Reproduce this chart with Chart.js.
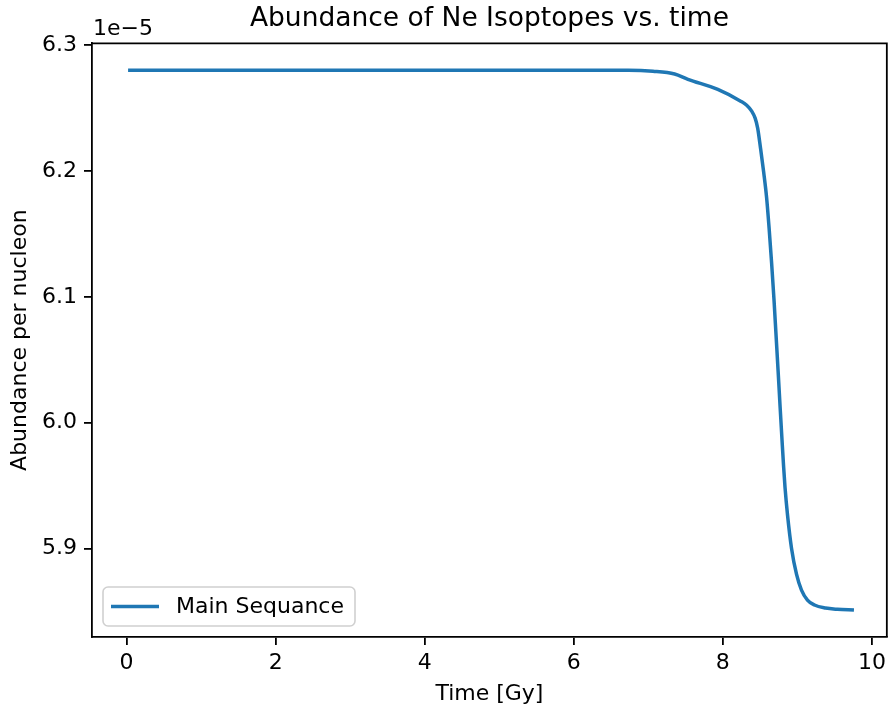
<!DOCTYPE html>
<html>
<head>
<meta charset="utf-8">
<script src="https://cdn.jsdelivr.net/npm/chart.js@4.4.1/dist/chart.umd.min.js"></script>
<style>
html,body{margin:0;padding:0;background:#fff;}
#wrap{width:891px;height:709px;}
</style>
</head>
<body>
<div id="wrap"><canvas id="c" width="891" height="709"></canvas></div>
<script>
// Time in Gy
const timeGy = [0.02, 1.0, 2.0, 3.0, 4.0, 5.0, 6.0, 6.73, 7.063, 7.353, 7.531, 7.932, 8.239, 8.320, 8.387, 8.433, 8.467, 8.507, 8.547, 8.587, 8.620, 8.654, 8.687, 8.714, 8.741, 8.767, 8.794, 8.814, 8.834, 8.868, 8.921, 8.988, 9.055, 9.135, 9.229, 9.376, 9.536, 9.759];
// Abundance per nucleon, in units of 1e-5
const abundance = [6.2802, 6.2802, 6.2802, 6.2802, 6.2802, 6.2802, 6.2802, 6.2802, 6.2794, 6.2772, 6.2730, 6.2649, 6.2556, 6.2524, 6.2477, 6.2421, 6.2342, 6.2175, 6.1995, 6.1790, 6.1550, 6.1270, 6.0970, 6.0692, 6.0415, 6.0137, 5.9860, 5.9661, 5.9487, 5.9265, 5.9003, 5.8797, 5.8670, 5.8591, 5.8551, 5.8527, 5.8517, 5.8511];
const seriesLabel = 'Main Sequance';
const xTicks = [0, 2, 4, 6, 8, 10];
const yTicks = [5.9, 6.0, 6.1, 6.2, 6.3];
const offsetText = '1e\u22125';
const chartTitle = 'Abundance of Ne Isoptopes vs. time';
const xTitle = 'Time [Gy]';
const yTitle = 'Abundance per nucleon';

const FONT = 'DejaVu Sans';
const BLUE = '#1f77b4';

const framePlugin = {
  id: 'frame',
  afterDraw(chart) {
    const ctx = chart.ctx, a = chart.chartArea;
    ctx.save();
    ctx.strokeStyle = '#000';
    ctx.lineWidth = 1.8;
    ctx.beginPath();
    ctx.moveTo(a.left, a.top);
    ctx.lineTo(a.right, a.top);
    ctx.lineTo(a.right, a.bottom);
    ctx.stroke();
    // offset text
    ctx.fillStyle = '#000';
    ctx.font = '22px "' + FONT + '"';
    ctx.textAlign = 'left';
    ctx.textBaseline = 'alphabetic';
    ctx.fillText(offsetText, a.left + 1, a.top - 8);
    // legend
    const ds = chart.data.datasets[0];
    const lx = a.left + 11, ly = a.bottom - 50, lw = 252, lh = 39, r = 5;
    ctx.beginPath();
    ctx.moveTo(lx + r, ly);
    ctx.arcTo(lx + lw, ly, lx + lw, ly + lh, r);
    ctx.arcTo(lx + lw, ly + lh, lx, ly + lh, r);
    ctx.arcTo(lx, ly + lh, lx, ly, r);
    ctx.arcTo(lx, ly, lx + lw, ly, r);
    ctx.closePath();
    ctx.fillStyle = 'rgba(255,255,255,0.8)';
    ctx.fill();
    ctx.strokeStyle = '#d0d0d0';
    ctx.lineWidth = 1.6;
    ctx.stroke();
    const my = ly + lh / 2;
    ctx.strokeStyle = ds.borderColor;
    ctx.lineWidth = 3.5;
    ctx.beginPath();
    ctx.moveTo(lx + 8, my);
    ctx.lineTo(lx + 56, my);
    ctx.stroke();
    ctx.fillStyle = '#000';
    ctx.textBaseline = 'middle';
    ctx.fillText(ds.label, lx + 73, my + 1);
    ctx.restore();
  }
};

new Chart(document.getElementById('c'), {
  type: 'line',
  data: {
    datasets: [{
      label: seriesLabel,
      data: timeGy.map((t, i) => ({x: t, y: abundance[i]})),
      borderColor: BLUE,
      backgroundColor: BLUE,
      borderWidth: 3.5,
      pointRadius: 0,
      cubicInterpolationMode: 'monotone',
      fill: false
    }]
  },
  options: {
    responsive: false,
    animation: false,
    layout: {padding: {left: 0, right: 1, top: 0, bottom: 0}},
    plugins: {
      legend: {display: false},
      tooltip: {enabled: false},
      title: {
        display: true,
        text: chartTitle,
        fullSize: false,
        color: '#000',
        font: {family: FONT, size: 26.5, weight: 'normal', lineHeight: 1.2},
        padding: {top: 3, bottom: 8.5}
      }
    },
    scales: {
      x: {
        type: 'linear',
        min: -0.464,
        max: 10.2,
        afterFit(s) { s.height = 72; },
        afterBuildTicks(s) { s.ticks = xTicks.map(v => ({value: v})); },
        ticks: {color: '#000', font: {family: FONT, size: 22}, padding: 5, callback: v => String(v)},
        grid: {drawOnChartArea: false, drawTicks: true, tickLength: 8, color: '#000', lineWidth: 1.8},
        border: {display: true, color: '#000', width: 1.8},
        title: {display: true, text: xTitle, color: '#000', font: {family: FONT, size: 22}, padding: {top: 0, bottom: 2}}
      },
      y: {
        type: 'linear',
        min: 5.8297,
        max: 6.3016,
        afterFit(s) { s.width = 92; },
        afterBuildTicks(s) { s.ticks = yTicks.map(v => ({value: v})); },
        ticks: {color: '#000', font: {family: FONT, size: 22}, padding: 7, callback: v => Number(v).toFixed(1)},
        grid: {drawOnChartArea: false, drawTicks: true, tickLength: 8, color: '#000', lineWidth: 1.8},
        border: {display: true, color: '#000', width: 1.8},
        title: {display: true, text: yTitle, color: '#000', font: {family: FONT, size: 22}, padding: {top: 7, bottom: 0}}
      }
    }
  },
  plugins: [framePlugin]
});
</script>
</body>
</html>
